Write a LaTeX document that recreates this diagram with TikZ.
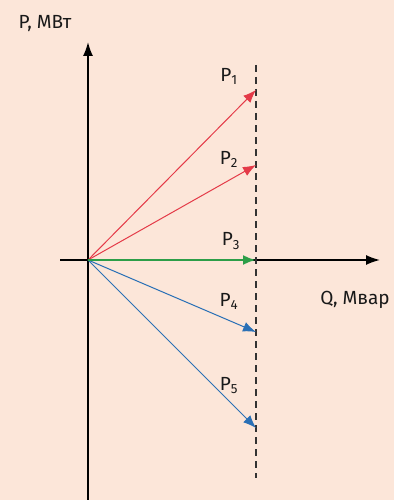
\documentclass[tikz,border=0pt]{standalone}
\usepackage{fontspec}
\setmainfont{Fira Sans}
\usetikzlibrary{arrows.meta}
\definecolor{bgpeach}{RGB}{252,230,217}
\definecolor{vred}{RGB}{228,58,72}
\definecolor{vgreen}{RGB}{44,158,72}
\definecolor{vblue}{RGB}{42,112,182}
\begin{document}
\begin{tikzpicture}[x=1pt,y=-1pt,line join=round,>={Latex[length=13pt,width=10pt]},
	lbl/.style={font=\fontsize{19}{19}\selectfont,text=black!90,inner sep=0pt}]
	\fill[bgpeach] (0,0) rectangle (394,500);
	\useasboundingbox (0,0) rectangle (394,500);
	\def\xd{256} % dashed line
	\coordinate (O) at (88,260);
	\coordinate (ybot) at (88,500); \coordinate (ytop) at (88,42);
	\coordinate (xlft) at (60,260); \coordinate (xrgt) at (380,260);
	\coordinate (dtop) at (\xd,65); \coordinate (dbot) at (\xd,478);
	\draw[->,line width=1.6pt,>={Latex[length=14pt,width=10pt]}] (ybot)--(ytop);
	\draw[->,line width=1.6pt,>={Latex[length=14pt,width=10pt]}] (xlft)--(xrgt);
	\draw[black!80,line width=1.1pt,dash pattern=on 7pt off 5pt] (dtop)--(dbot);
	\node[lbl] (pax) at (45,24) {P, МВт};
	\node[lbl] (qax) at (355,300) {Q, Мвар};
	\foreach \i/\y/\ly/\c in {1/90/76/vred,2/165/159/vred,4/332/301/vblue,5/428/386/vblue}{
		\coordinate (e\i) at (\xd,\y);
		\draw[->,\c,line width=1pt] (O)--(e\i);
		\node[lbl] (p\i) at (229,\ly) {P\textsubscript{\i}};
	}
	\coordinate (e3) at (\xd,260);
	\draw[->,vgreen,line width=2.4pt] (O)--(e3);
	\node[lbl] (p3) at (231,241) {P\textsubscript{3}};
\end{tikzpicture}
\end{document}
